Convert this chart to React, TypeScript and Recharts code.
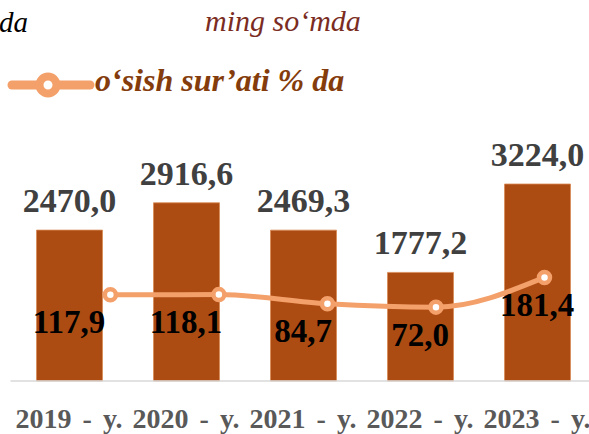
import { ComposedChart, Bar, Line, XAxis, YAxis, LabelList } from "recharts";

const years = ["2019 - y.", "2020 - y.", "2021 - y.", "2022 - y.", "2023 - y."];
const volume = [2470.0, 2916.6, 2469.3, 1777.2, 3224.0];
const growth = [117.9, 118.1, 84.7, 72.0, 181.4];

const unitText = "ming so‘mda";
const legendText = "o‘sish sur’ati % da";

const BAR = "#AD4C12";
const LINE = "#F4A06B";
const SERIF = "'Liberation Serif', 'Times New Roman', serif";

const data = years.map((year, i) => ({
  year,
  idx: i,
  volume: volume[i],
  growth: growth[i],
}));

const fmt = (v: any) => Number(v).toFixed(1).replace(".", ",");

function YearTick(props: any) {
  const { x, y, payload } = props;
  return (
    <text
      x={x}
      y={y}
      dy={47}
      textAnchor="middle"
      fontFamily={SERIF}
      fontWeight="bold"
      fontSize={28}
      wordSpacing={4}
      fill="#595959"
    >
      {payload.value}
    </text>
  );
}

export default function App() {
  return (
    <div
      style={{
        position: "absolute",
        left: 0,
        top: 0,
        width: 589,
        height: 434,
        overflow: "hidden",
        background: "#fff",
      }}
    >
      <div
        style={{
          position: "absolute",
          left: -1,
          top: 5,
          fontFamily: SERIF,
          fontStyle: "italic",
          fontSize: 29,
          color: "#000",
          lineHeight: "34px",
        }}
      >
        da
      </div>
      <div
        style={{
          position: "absolute",
          left: 205,
          top: 4,
          fontFamily: SERIF,
          fontStyle: "italic",
          fontSize: 30,
          color: "#7B2C22",
          lineHeight: "34px",
          whiteSpace: "nowrap",
        }}
      >
        {unitText}
      </div>
      <svg
        width={92}
        height={40}
        style={{ position: "absolute", left: 4, top: 65 }}
      >
        <line x1={8} y1={20} x2={86} y2={20} stroke={LINE} strokeWidth={9} strokeLinecap="round" />
        <circle cx={44} cy={20} r={8.5} fill="#fff" stroke={LINE} strokeWidth={8} />
      </svg>
      <div
        style={{
          position: "absolute",
          left: 95,
          top: 62,
          fontFamily: SERIF,
          fontStyle: "italic",
          fontWeight: "bold",
          fontSize: 32,
          color: "#843C0C",
          lineHeight: "36px",
          whiteSpace: "nowrap",
        }}
      >
        {legendText}
      </div>
      <div style={{ position: "absolute", left: 0, top: 0 }}>
        <ComposedChart
          width={600}
          height={434}
          data={data}
          margin={{ top: 136.6, right: 4.5, bottom: 0, left: 10.5 }}
        >
          <XAxis
            xAxisId="bar"
            dataKey="year"
            height={53}
            tickLine={false}
            tickSize={0}
            tickMargin={0}
            axisLine={{ stroke: "#D9D9D9", strokeWidth: 1.5 }}
            tick={<YearTick />}
            interval={0}
          />
          <XAxis
            xAxisId="line"
            dataKey="idx"
            type="number"
            domain={[-0.92, 4.47]}
            hide
          />
          <YAxis yAxisId="bar" domain={[0, 4000]} hide />
          <YAxis yAxisId="line" domain={[-200, 700]} hide />
          <Bar
            xAxisId="bar"
            yAxisId="bar"
            dataKey="volume"
            fill={BAR}
            stroke="#D98A55"
            strokeWidth={0.8}
            barSize={66}
            isAnimationActive={false}
          >
            <LabelList
              dataKey="volume"
              position="top"
              offset={18}
              formatter={fmt}
              fill="#404040"
              fontFamily={SERIF}
              fontWeight="bold"
              fontSize={34}
            />
          </Bar>
          <Line
            xAxisId="line"
            yAxisId="line"
            dataKey="growth"
            type="monotone"
            stroke={LINE}
            strokeWidth={5}
            dot={{ r: 5.5, fill: "#fff", stroke: LINE, strokeWidth: 4.5 }}
            activeDot={false}
            isAnimationActive={false}
          />
          <Line
            xAxisId="bar"
            yAxisId="line"
            dataKey="growth"
            stroke="none"
            dot={false}
            activeDot={false}
            isAnimationActive={false}
          >
            <LabelList
              dataKey="growth"
              position="bottom"
              offset={15}
              formatter={fmt}
              fill="#000"
              fontFamily={SERIF}
              fontWeight="bold"
              fontSize={33}
            />
          </Line>
        </ComposedChart>
      </div>
    </div>
  );
}
